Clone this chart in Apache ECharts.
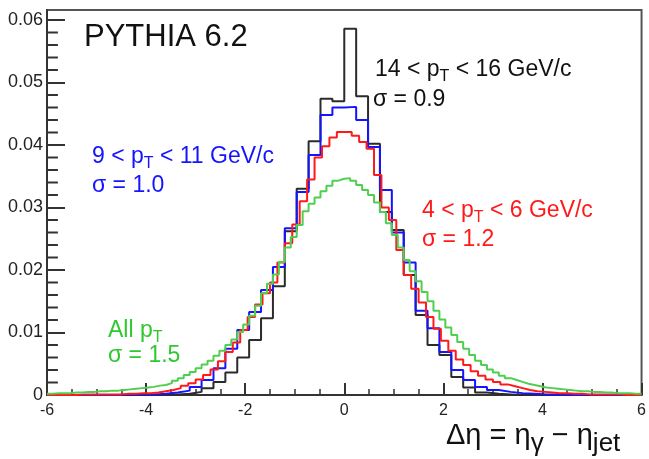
<!DOCTYPE html>
<html>
<head>
<meta charset="utf-8">
<script src="https://cdn.jsdelivr.net/npm/echarts@6/dist/echarts.min.js"></script>
<style>
  html, body { margin: 0; padding: 0; background: #fff; }
  #chart { width: 649px; height: 459px; }
</style>
</head>
<body>
<div id="chart"></div>
<script>
// Histogram range and bin widths
const xMin = -6, xMax = 6;
const coarseBinWidth = 0.24;   // 50 bins (14-16 and 9-11 GeV/c samples)
const redBinWidth = 0.15;      // 80 bins (4-6 GeV/c)
const greenBinWidth = 0.12;    // 100 bins (all pT)

// Normalised Δη distributions, bin contents from left (-6) to right (+6)
const pt14to16 = [
  0, 0, 0, 0, 0, 0, 0, 0, 0, 0,
  0.0001, 0.0002, 0.0005, 0.0011, 0.0021, 0.0036, 0.0060, 0.0088, 0.0123, 0.0174,
  0.0262, 0.0330, 0.0406, 0.0474, 0.0470, 0.0586, 0.0478, 0.0402, 0.0293, 0.0264,
  0.0192, 0.0128, 0.0080, 0.0064, 0.0029, 0.0012, 0.0004, 0.0002, 0.0001, 0,
  0, 0, 0, 0, 0, 0, 0, 0, 0, 0
];
const pt9to11 = [
  0, 0, 0, 0, 0, 0, 0.0001, 0.0001, 0.0001, 0.0002,
  0.0004, 0.0007, 0.0013, 0.0024, 0.0043, 0.0074, 0.0104, 0.0133, 0.0168, 0.0205,
  0.0267, 0.0325, 0.0384, 0.0448, 0.0460, 0.0461, 0.0440, 0.0397, 0.0328, 0.0260,
  0.0212, 0.0135, 0.0107, 0.0069, 0.0040, 0.0024, 0.0013, 0.0008, 0.0005, 0.0003,
  0.0002, 0.0001, 0.0001, 0, 0, 0, 0, 0, 0, 0
];
const pt4to6 = [
  0, 0, 0, 0, 0.0001, 0.0001, 0.0001, 0.0001, 0.0001, 0.0001,
  0.0002, 0.0002, 0.0003, 0.0003, 0.0004, 0.0006, 0.0008, 0.0011, 0.0015, 0.0019,
  0.0025, 0.0032, 0.0041, 0.0054, 0.0069, 0.0084, 0.0104, 0.0125, 0.0145, 0.0163,
  0.0180, 0.0212, 0.0243, 0.0273, 0.0310, 0.0345, 0.0380, 0.0398, 0.0412, 0.0421,
  0.0421, 0.0415, 0.0405, 0.0394, 0.0352, 0.0300, 0.0280, 0.0232, 0.0192, 0.0170,
  0.0148, 0.0125, 0.0106, 0.0087, 0.0071, 0.0057, 0.0048, 0.0038, 0.0031, 0.0025,
  0.0021, 0.0017, 0.0014, 0.0011, 0.0008, 0.0006, 0.0005, 0.0004, 0.0003, 0.0003,
  0.0002, 0.0002, 0.0001, 0.0001, 0.0001, 0.0001, 0.0001, 0, 0, 0
];
const ptAll = [
  0.0002, 0.0003, 0.0003, 0.0003, 0.0004, 0.0004, 0.0005, 0.0005, 0.0006, 0.0006,
  0.0007, 0.0007, 0.0008, 0.0009, 0.0010, 0.0011, 0.0012, 0.0013, 0.0015, 0.0016,
  0.0019, 0.0023, 0.0027, 0.0032, 0.0037, 0.0043, 0.0049, 0.0055, 0.0063, 0.0071,
  0.0080, 0.0089, 0.0101, 0.0113, 0.0127, 0.0143, 0.0163, 0.0178, 0.0193, 0.0213,
  0.0236, 0.0253, 0.0272, 0.0294, 0.0306, 0.0316, 0.0326, 0.0335, 0.0343, 0.0346,
  0.0347, 0.0343, 0.0336, 0.0328, 0.0320, 0.0308, 0.0293, 0.0275, 0.0256, 0.0236,
  0.0216, 0.0198, 0.0182, 0.0165, 0.0150, 0.0135, 0.0121, 0.0108, 0.0096, 0.0085,
  0.0074, 0.0064, 0.0055, 0.0048, 0.0041, 0.0036, 0.0031, 0.0027, 0.0024, 0.0021,
  0.0018, 0.0016, 0.0014, 0.0012, 0.0011, 0.0010, 0.0009, 0.0008, 0.0007, 0.0006,
  0.0006, 0.0005, 0.0005, 0.0004, 0.0004, 0.0003, 0.0003, 0.0003, 0.0002, 0.0002
];

// Axis ticks
const yMax = 0.0616;
const yMajorTicks = [0, 0.01, 0.02, 0.03, 0.04, 0.05, 0.06];
const yMinorTicks = [
  0.002, 0.004, 0.006, 0.008, 0.012, 0.014, 0.016, 0.018,
  0.022, 0.024, 0.026, 0.028, 0.032, 0.034, 0.036, 0.038,
  0.042, 0.044, 0.046, 0.048, 0.052, 0.054, 0.056, 0.058
];
const minorTickSpan = 0.22;   // minor tick length along x, in Δη units

const FONT = '"Liberation Sans", Arial, Helvetica, sans-serif';

// Outline of a fixed-width histogram as a stepped line (one point per left bin edge)
function histOutline(values, width) {
  const pts = values.map((v, i) => [xMin + i * width, v]);
  pts.push([xMin + values.length * width, values[values.length - 1]]);
  return pts;
}

function histSeries(name, values, width, color) {
  return {
    name, type: 'line', step: 'end', data: histOutline(values, width),
    showSymbol: false, symbol: 'none', silent: true, animation: false,
    lineStyle: { color, width: 2 }
  };
}

// Short horizontal stubs on the y axis for the minor divisions
function minorTickSeries(v) {
  return {
    type: 'line', data: [[xMin, v], [xMin + minorTickSpan, v]],
    showSymbol: false, symbol: 'none', silent: true, animation: false, z: 5,
    lineStyle: { color: '#333', width: 2 }
  };
}

// Text runs with subscripts, laid out piece by piece
const measureCtx = document.createElement('canvas').getContext('2d');
function textWidth(t, size, weight) {
  measureCtx.font = (weight || 'normal') + ' ' + size + 'px ' + FONT;
  return measureCtx.measureText(t).width;
}
function textRun(x, y, parts, color, weight) {
  const els = [];
  let cx = x;
  parts.forEach(([t, size, dy]) => {
    els.push({
      type: 'text', x: cx, y: y + (dy || 0), silent: true,
      style: {
        text: t, fill: color,
        font: (weight || 'normal') + ' ' + size + 'px ' + FONT,
        textAlign: 'left', textVerticalAlign: 'middle'
      }
    });
    cx += textWidth(t, size, weight);
  });
  return els;
}

const colBlack = '#2b2b2b', colBlue = '#1414ff', colRed = '#ff1a1a', colGreen = '#4fcf4f';
const axisColor = '#333';

const labels = [].concat(
  textRun(84, 37, [['PYTHIA 6.2', 31]], '#111'),
  textRun(375, 70, [['14 < p', 23], ['T', 16, 7], [' < 16 GeV/c', 23]], '#111'),
  textRun(373, 100, [['\u03c3 = 0.9', 23]], '#111'),
  textRun(92, 157, [['9 < p', 23], ['T', 16, 7], [' < 11 GeV/c', 23]], colBlue),
  textRun(92, 186, [['\u03c3 = 1.0', 23]], colBlue),
  textRun(422, 211, [['4 < p', 23], ['T', 16, 7], [' < 6 GeV/c', 23]], colRed),
  textRun(422, 240, [['\u03c3 = 1.2', 23]], colRed),
  textRun(108, 331, [['All p', 23], ['T', 16, 7]], '#2fc82f'),
  textRun(108, 356, [['\u03c3 = 1.5', 23]], '#2fc82f'),
  textRun(446, 436, [['\u0394\u03b7 = \u03b7', 29], ['\u03b3', 26, 8], [' \u2212 \u03b7', 29], ['jet', 26, 8]], '#111')
);

const chart = echarts.init(document.getElementById('chart'), null, { renderer: 'canvas' });
chart.setOption({
  animation: false,
  backgroundColor: '#fff',
  grid: {
    left: 47, right: 7, top: 10, bottom: 64, containLabel: false,
    show: true, borderColor: '#555', borderWidth: 2, backgroundColor: 'transparent'
  },
  xAxis: {
    type: 'value', min: xMin, max: xMax, interval: 2, position: 'bottom',
    axisLine: { show: true, onZero: false, lineStyle: { color: axisColor, width: 2 } },
    axisTick: { show: true, inside: true, length: 12, lineStyle: { color: axisColor, width: 2 } },
    minorTick: { show: true, splitNumber: 4, length: 6, lineStyle: { color: axisColor, width: 1.5 } },
    splitLine: { show: false }, minorSplitLine: { show: false },
    axisLabel: { fontSize: 16, color: '#222', margin: 8, fontFamily: FONT }
  },
  yAxis: {
    type: 'value', min: 0, max: yMax, interval: 0.01, position: 'left',
    axisLine: { show: true, onZero: false, lineStyle: { color: axisColor, width: 2 } },
    axisTick: { show: true, inside: true, length: 18, customValues: yMajorTicks, lineStyle: { color: axisColor, width: 2 } },
    axisLabel: {
      customValues: yMajorTicks, fontSize: 18, color: '#222', margin: 4, fontFamily: FONT,
      formatter: v => String(Number(v.toFixed(2)))
    },
    splitLine: { show: false }, minorSplitLine: { show: false }
  },
  series: [
    histSeries('14 < pT < 16 GeV/c', pt14to16, coarseBinWidth, colBlack),
    histSeries('9 < pT < 11 GeV/c', pt9to11, coarseBinWidth, colBlue),
    histSeries('4 < pT < 6 GeV/c', pt4to6, redBinWidth, colRed),
    histSeries('All pT', ptAll, greenBinWidth, colGreen)
  ].concat(yMinorTicks.map(minorTickSeries)),
  graphic: { elements: labels }
});
</script>
</body>
</html>
